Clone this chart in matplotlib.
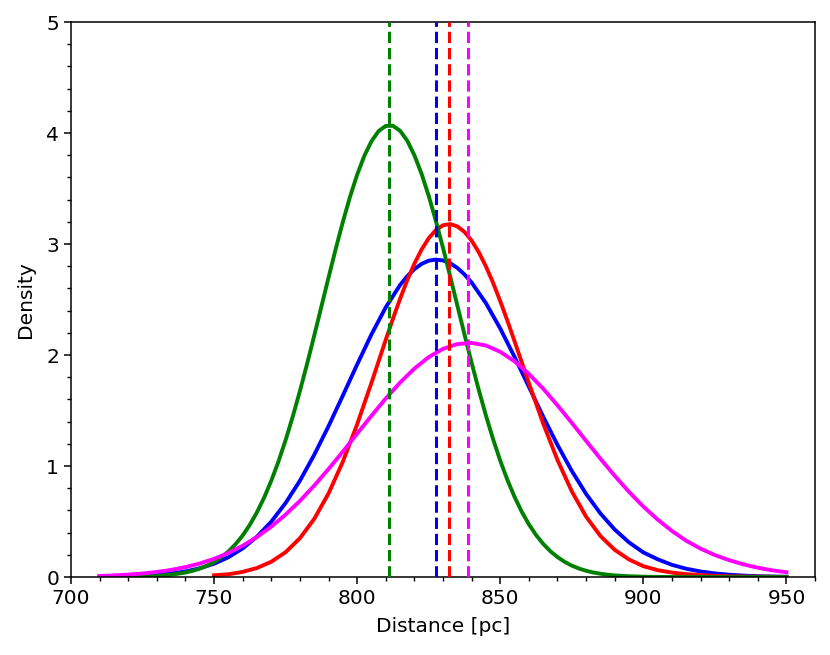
import matplotlib
matplotlib.use("Agg")
import matplotlib.pyplot as plt
from matplotlib.ticker import MultipleLocator

# ── values ────────────────────────────────────────────────────────────────────
GRID_X = [710, 715, 720, 725, 730, 735, 740, 745, 750, 755, 760, 765, 770, 775,
          780, 785, 790, 795, 800, 805, 810, 815, 820, 825, 830, 835, 840, 845,
          850, 855, 860, 865, 870, 875, 880, 885, 890, 895, 900, 905, 910, 915,
          920, 925, 930, 935, 940, 945, 950]

GREEN_X = [710, 715, 720, 725, 730, 735, 740, 742.5, 745, 747.5, 750, 752.5, 755,
           757.5, 760, 762.5, 765, 767.5, 770, 772.5, 775, 777.5, 780, 782.5, 785,
           787.5, 790, 792.5, 795, 797.5, 800, 802.5, 805, 807.5, 810, 812.5, 815,
           817.5, 820, 822.5, 825, 827.5, 830, 832.5, 835, 837.5, 840, 842.5, 845,
           847.5, 850, 852.5, 855, 857.5, 860, 862.5, 865, 867.5, 870, 872.5, 875,
           877.5, 880, 882.5, 885, 887.5, 890, 895, 900, 905, 910, 915, 920, 925,
           930, 935, 940, 945, 950]
GREEN_Y = [0.0004, 0.0009, 0.0021, 0.0048, 0.0102, 0.0209, 0.0407, 0.0560, 0.0759,
           0.102, 0.135, 0.178, 0.230, 0.296, 0.375, 0.471, 0.584, 0.716, 0.868,
           1.041, 1.234, 1.446, 1.676, 1.920, 2.175, 2.436, 2.698, 2.955, 3.199,
           3.425, 3.625, 3.794, 3.926, 4.017, 4.064, 4.065, 4.020, 3.931, 3.800,
           3.633, 3.434, 3.209, 2.965, 2.709, 2.447, 2.186, 1.930, 1.685, 1.455,
           1.242, 1.048, 0.875, 0.722, 0.589, 0.475, 0.379, 0.299, 0.233, 0.180,
           0.137, 0.103, 0.0768, 0.0566, 0.0412, 0.0297, 0.0212, 0.0149, 0.0071,
           0.0033, 0.0014, 0.0006, 0.0002, 0.0001, 0, 0, 0, 0, 0, 0]

BLUE_X = [710, 715, 720, 725, 730, 735, 740, 745, 750, 755, 760, 765, 770, 775,
          780, 785, 790, 795, 800, 805, 810, 815, 817.5, 820, 822.5, 825, 827.5,
          830, 832.5, 835, 837.5, 840, 845, 850, 855, 860, 865, 870, 875, 880,
          885, 890, 895, 900, 905, 910, 915, 920, 925, 930, 935, 940, 945, 950]
BLUE_Y = [0.0020, 0.0036, 0.0065, 0.0112, 0.0190, 0.0314, 0.0504, 0.0789, 0.120,
          0.178, 0.258, 0.364, 0.499, 0.667, 0.868, 1.101, 1.359, 1.635, 1.915,
          2.186, 2.430, 2.631, 2.710, 2.774, 2.821, 2.850, 2.860, 2.852, 2.827,
          2.785, 2.726, 2.653, 2.467, 2.239, 1.983, 1.714, 1.445, 1.190, 0.956,
          0.749, 0.573, 0.428, 0.312, 0.222, 0.160, 0.110, 0.075, 0.050, 0.033,
          0.021, 0.013, 0.008, 0.005, 0.003]

RED_X = [750, 755, 760, 765, 770, 775, 780, 785, 790, 795, 800, 805, 810, 812.5,
         815, 817.5, 820, 822.5, 825, 827.5, 830, 832.5, 835, 837.5, 840, 842.5,
         845, 847.5, 850, 852.5, 855, 860, 865, 870, 875, 880, 885, 890, 895, 900,
         905, 910, 915, 920, 925, 930, 935, 940, 945, 950]
RED_Y = [0.016, 0.0253, 0.0465, 0.0818, 0.138, 0.224, 0.350, 0.524, 0.753, 1.039,
         1.376, 1.750, 2.138, 2.327, 2.507, 2.674, 2.823, 2.950, 3.052, 3.126,
         3.169, 3.180, 3.159, 3.109, 3.031, 2.926, 2.798, 2.650, 2.485, 2.309,
         2.124, 1.747, 1.383, 1.054, 0.772, 0.544, 0.370, 0.245, 0.158, 0.098,
         0.062, 0.040, 0.026, 0.017, 0.011, 0.007, 0.005, 0.003, 0.002, 0.001]

MAGENTA_Y = [0.0098, 0.0148, 0.0219, 0.0319, 0.0457, 0.0644, 0.0893, 0.122, 0.164,
             0.217, 0.282, 0.361, 0.454, 0.563, 0.686, 0.824, 0.973, 1.130, 1.292,
             1.453, 1.609, 1.752, 1.878, 1.981, 2.056, 2.099, 2.109, 2.086, 2.029,
             1.943, 1.830, 1.697, 1.547, 1.389, 1.227, 1.066, 0.912, 0.767, 0.635,
             0.518, 0.415, 0.327, 0.256, 0.198, 0.152, 0.114, 0.084, 0.061, 0.043]

# vertical dashed markers (one per curve)
MARK_COLORS = ["green", "blue", "red", "magenta"]
MARK_X = [811.3, 827.6, 832.1, 838.7]

assert len(GREEN_X) == len(GREEN_Y)
assert len(BLUE_X) == len(BLUE_Y)
assert len(RED_X) == len(RED_Y)
assert len(GRID_X) == len(MAGENTA_Y)

fig = plt.figure(figsize=(8.3, 6.55), dpi=100)
ax = fig.add_axes([0.0855, 0.119, 0.8965, 0.8474])

LW = 2.8
ax.plot(BLUE_X, BLUE_Y, color="blue", lw=LW, zorder=2)
ax.plot(RED_X, RED_Y, color="red", lw=LW, zorder=2)
ax.plot(GREEN_X, GREEN_Y, color="green", lw=LW, zorder=2)
ax.plot(GRID_X, MAGENTA_Y, color="magenta", lw=LW, zorder=2)

for c, xm in zip(MARK_COLORS, MARK_X):
    ax.axvline(xm, color=c, lw=2.2, linestyle="--", zorder=3)

ax.set_xlim(700, 960)
ax.set_ylim(0, 5)
ax.xaxis.set_major_locator(MultipleLocator(50))
ax.xaxis.set_minor_locator(MultipleLocator(10))
ax.yaxis.set_major_locator(MultipleLocator(1))
ax.yaxis.set_minor_locator(MultipleLocator(0.2))
ax.tick_params(which="major", labelsize=14.5, length=5, width=1.1)
ax.tick_params(which="minor", length=3, width=1.0)
for s in ax.spines.values():
    s.set_linewidth(1.1)

ax.set_xlabel("Distance [pc]", fontsize=14.5, labelpad=6.5)
ax.set_ylabel("Density", fontsize=14.5, labelpad=8)

fig.savefig("out.png", dpi=100)
